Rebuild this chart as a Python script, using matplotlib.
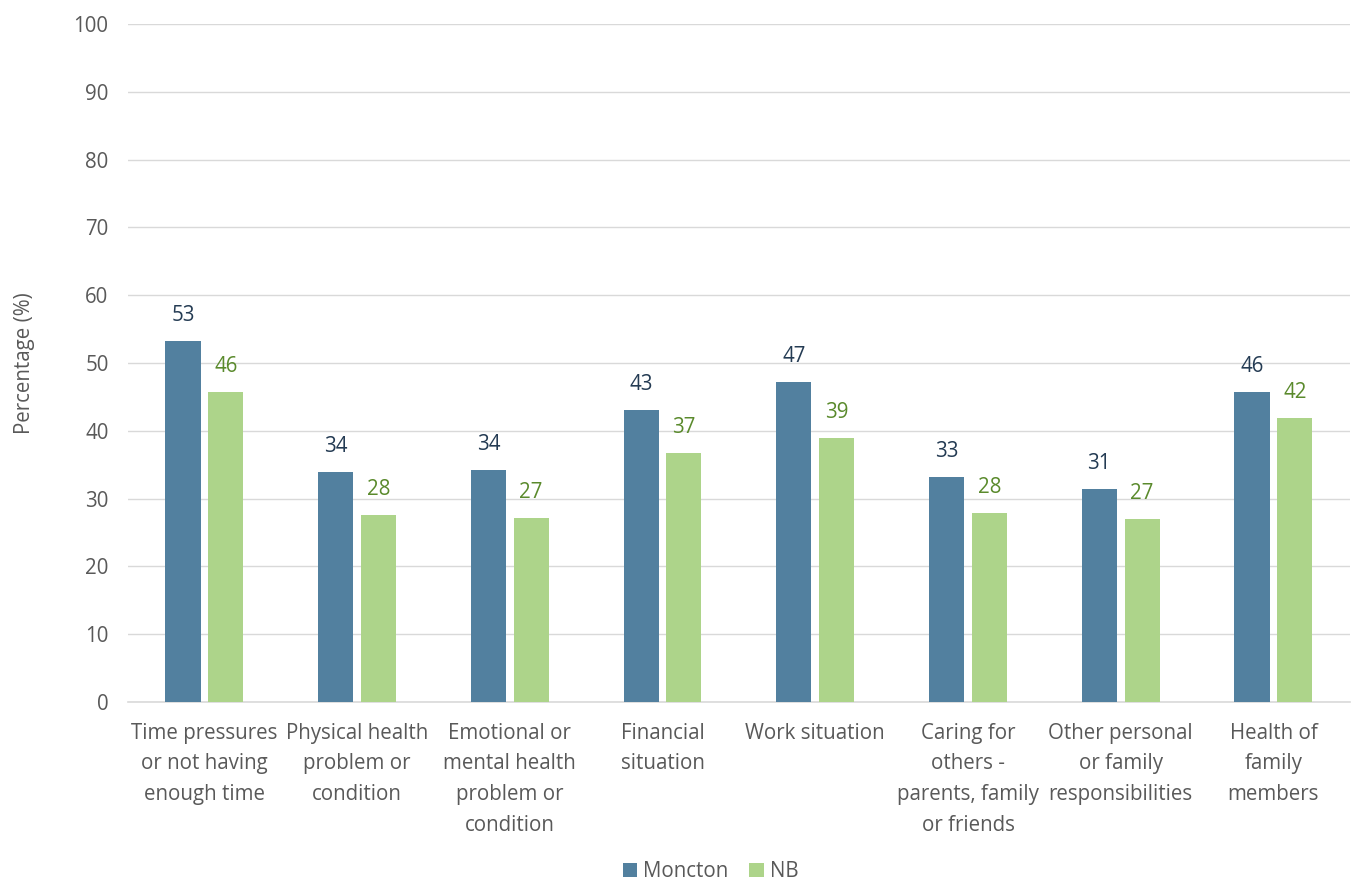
import numpy as np
import matplotlib
matplotlib.use('Agg')
import matplotlib.pyplot as plt

plt.rcParams['font.family'] = ['Open Sans', 'DejaVu Sans']

# Data
categories = [
    'Time pressures\nor not having\nenough time',
    'Physical health\nproblem or\ncondition',
    'Emotional or\nmental health\nproblem or\ncondition',
    'Financial\nsituation',
    'Work situation',
    'Caring for\nothers -\nparents, family\nor friends',
    'Other personal\nor family\nresponsibilities',
    'Health of\nfamily\nmembers',
]
moncton = [53.2, 33.9, 34.2, 43.1, 47.2, 33.2, 31.4, 45.7]
nb = [45.7, 27.6, 27.1, 36.7, 38.9, 27.9, 27.0, 41.9]

c_moncton = '#52809F'
c_nb = '#ADD48A'
grey = '#595959'
fs = 14.8

fig = plt.figure(figsize=(13.56, 8.86), dpi=100)
ax = fig.add_axes([0.0944, 0.2077, 0.901, 0.7652])

x = np.arange(len(categories))
w = 0.23
gap = 0.05
b1 = ax.bar(x - (w + gap) / 2, moncton, w, color=c_moncton, label='Moncton', zorder=3)
b2 = ax.bar(x + (w + gap) / 2, nb, w, color=c_nb, label='NB', zorder=3)

for bars, vals, col in [(b1, moncton, '#243B53'), (b2, nb, '#5A8A2C')]:
    for rect, v in zip(bars, vals):
        ax.annotate(f'{v:.0f}', (rect.get_x() + rect.get_width() / 2, v),
                    xytext=(0, 18.5), textcoords='offset points',
                    ha='center', va='center', fontsize=fs, color=col)

ax.set_xlim(-0.5, len(categories) - 0.5)
ax.set_ylim(0, 100)
ax.set_yticks(range(0, 101, 10))
ax.yaxis.grid(True, color='#D9D9D9', linewidth=1, zorder=0)
ax.set_axisbelow(True)
for s in ['top', 'right', 'left']:
    ax.spines[s].set_visible(False)
ax.spines['bottom'].set_color('#D9D9D9')
ax.spines['bottom'].set_linewidth(1.2)
ax.tick_params(axis='y', length=0, labelsize=fs, colors=grey, pad=14)
ax.tick_params(axis='x', length=0, labelsize=fs, colors=grey, pad=15)
ax.set_xticks(x)
ax.set_xticklabels(categories, linespacing=1.6)
ax.set_ylabel('Percentage (%)', fontsize=fs, color=grey, labelpad=28)

fig.legend(handles=[b1, b2], labels=['Moncton', 'NB'], loc='center',
           bbox_to_anchor=(0.524, 0.016), ncol=2, frameon=False, fontsize=fs,
           handlelength=0.7, handleheight=0.7, handletextpad=0.3, columnspacing=1.0,
           labelcolor=grey, borderpad=0.1)

fig.savefig('out.png', dpi=100)
